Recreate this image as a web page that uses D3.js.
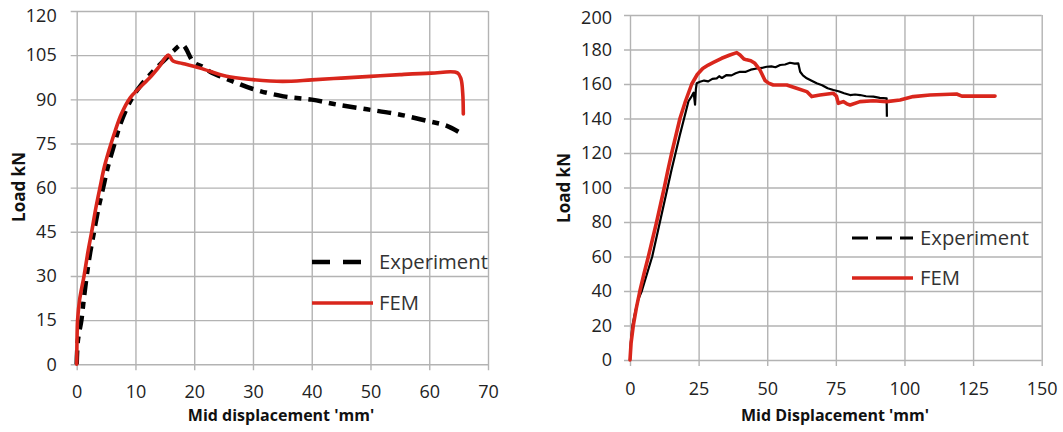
<!DOCTYPE html>
<html>
<head>
<meta charset="utf-8">
<script src="https://cdn.jsdelivr.net/npm/d3@7"></script>
<style>
  body { margin: 0; background: #fff; }
  svg { display: block; font-family: 'Open Sans', sans-serif; }
</style>
</head>
<body>
<div id="chart"></div>
<script>
// ---- left chart: Load vs mid displacement ----
const leftXTicks = [0, 10, 20, 30, 40, 50, 60, 70];
const leftYTicks = [0, 15, 30, 45, 60, 75, 90, 105, 120];
const leftExp = [
  [0, 0], [0.2, 8], [0.8, 15], [1.2, 22], [1.7, 30], [2.3, 38], [2.95, 45], [3.7, 53],
  [4.5, 60], [5.3, 67], [6.3, 74], [7.5, 82], [9.3, 90], [11, 95], [13, 99.5],
  [15, 103.5], [16.5, 106.5], [18, 108.5], [19.9, 102.6], [21.5, 101], [23, 99],
  [24.7, 97.6], [27.3, 95.5], [30, 93.5], [35.2, 91], [40, 89.9], [44.3, 88.2], [49.4, 86.6],
  [54.5, 85], [59.6, 82.7], [63, 81], [65.8, 78]
];
const leftFem = [
  [0, 0], [0.05, 8], [0.15, 15], [0.5, 22], [1.25, 30], [1.9, 38], [2.55, 45], [3.25, 53],
  [3.96, 60], [4.7, 67], [5.55, 73], [6.5, 79], [7.6, 85], [9.1, 90.5], [10.5, 93.5],
  [12.5, 97.5], [14, 101], [15.6, 105], [16.4, 103], [18, 102.2], [21, 100.6], [25.5, 97.8],
  [30, 96.7], [35, 96.1], [40, 96.6], [45, 97.2], [50, 97.8], [55, 98.4], [60.3, 98.9],
  [64.8, 99], [65.4, 97], [65.7, 92], [65.8, 85]
];

// ---- right chart ----
const rightXTicks = [0, 25, 50, 75, 100, 125, 150];
const rightYTicks = [0, 20, 40, 60, 80, 100, 120, 140, 160, 180, 200];
const rightExp = [
  [0, 0], [0.3, 10], [0.9, 20], [1.9, 28], [3, 35], [4.3, 40], [6.2, 50], [8.1, 60],
  [9.5, 70], [10.9, 80], [12.3, 90], [13.7, 100], [15.1, 110], [16.6, 120], [18.1, 130],
  [19.7, 140], [21.3, 150], [22.5, 153], [23.2, 155], [23.7, 148], [24, 157], [24.3, 160.4],
  [25.5, 161.3], [27, 162], [28.5, 161.5], [30, 163], [31.6, 163.3], [32.5, 164.5],
  [33.5, 163.5], [35.2, 165.2], [37, 165], [38.5, 166.2], [40.1, 167.1], [42, 167],
  [44, 168.3], [46.2, 169], [48, 169.3], [49.8, 170], [51.5, 170.2], [53, 169.7],
  [54.7, 171], [56.5, 171.3], [58.3, 172.3], [60, 171.8], [61.3, 172], [62, 167.1],
  [63, 165], [64.4, 163.3], [66, 162], [68, 160.4], [70, 159.3], [72, 157.5],
  [74.1, 156.5], [76, 155.8], [78, 154.6], [80.2, 153.6], [82, 153.9], [83.8, 153.6],
  [86, 152.9], [88.7, 152.7], [91, 152], [93.5, 151.7], [93.6, 141]
];
const rightFem = [
  [0, 0], [0.4, 10], [1.2, 20], [2.3, 30], [3.6, 40], [5.1, 50], [6.7, 60], [8.2, 70],
  [9.7, 80], [11.1, 90], [12.5, 100], [13.8, 110], [15.2, 120], [16.7, 130], [18.2, 140],
  [20.2, 150], [22.5, 160], [24.5, 165.5], [26.5, 169], [28.5, 171], [30.4, 172.5],
  [33.4, 174.9], [36.4, 176.8], [38.9, 178.2], [40.1, 176.8], [41.5, 174.5],
  [42.5, 174], [44, 173.5], [45.5, 172], [47.4, 168], [49.2, 162], [50.5, 160.5],
  [52.2, 159.4], [57.1, 159.4], [60.7, 157.5], [64.4, 155.6], [66.2, 152.7],
  [69.2, 153.6], [74.1, 154.6], [75.2, 153], [75.9, 148.8], [77.7, 149.8], [79, 148.5],
  [80.2, 147.8], [83.8, 149.8], [88.7, 150.3], [93.5, 149.8], [98.4, 150.7],
  [103.2, 152.7], [109.3, 153.6], [119, 154.2], [120.9, 153], [133, 153]
];

const W = 1063, H = 432;
const svg = d3.select('#chart').append('svg').attr('width', W).attr('height', H);
svg.append('rect').attr('width', W).attr('height', H).attr('fill', '#fff');

function drawPanel(cfg) {
  const x = d3.scaleLinear().domain(cfg.xDomain).range([cfg.left, cfg.right]);
  const y = d3.scaleLinear().domain(cfg.yDomain).range([cfg.bottom, cfg.top]);
  const g = svg.append('g');

  // y gridlines + labels
  const ya = g.append('g').attr('transform', `translate(${cfg.left},0)`)
    .call(d3.axisLeft(y).tickValues(cfg.yTicks).tickSizeInner(-(cfg.right - cfg.left))
      .tickSizeOuter(0).tickPadding(cfg.yPad));
  ya.select('.domain').remove();
  ya.selectAll('line').attr('x1', -6).attr('stroke', '#b3b3b3').attr('stroke-width', 1.4);
  ya.selectAll('text').attr('font-size', 18).attr('fill', '#222')
    .attr('font-family', "'Open Sans', sans-serif");
  // top label sits a little lower so it stays inside the picture
  ya.selectAll('text').filter((d) => d === cfg.yDomain[1]).attr('y', cfg.topShift);

  // x gridlines + labels
  const xa = g.append('g').attr('transform', `translate(0,${cfg.bottom})`)
    .call(d3.axisBottom(x).tickValues(cfg.xTicks).tickSizeInner(-(cfg.bottom - cfg.top))
      .tickSizeOuter(0).tickPadding(cfg.xPad));
  xa.select('.domain').remove();
  xa.selectAll('line').attr('y1', 6).attr('stroke', '#b3b3b3').attr('stroke-width', 1.4);
  xa.selectAll('text').attr('font-size', 18).attr('fill', '#222')
    .attr('font-family', "'Open Sans', sans-serif");

  // axis titles
  g.append('text')
    .attr('transform', `translate(${cfg.yTitleX},${cfg.yTitleY}) rotate(-90)`)
    .attr('text-anchor', 'middle').attr('font-weight', 700).attr('font-size', 17)
    .attr('fill', '#111').text('Load kN');
  g.append('text')
    .attr('x', cfg.xTitleX).attr('y', cfg.xTitleY)
    .attr('text-anchor', 'middle').attr('font-weight', 700).attr('font-size', 16)
    .attr('fill', '#111').text(cfg.xTitle);

  const line = d3.line().x((d) => x(d[0])).y((d) => y(d[1])).curve(cfg.curve);

  g.append('path').datum(cfg.exp).attr('d', line)
    .attr('fill', 'none').attr('stroke', '#000')
    .attr('stroke-width', cfg.expWidth)
    .attr('stroke-dasharray', cfg.expDash)
    .attr('stroke-linejoin', 'round');
  g.append('path').datum(cfg.fem).attr('d', line)
    .attr('fill', 'none').attr('stroke', '#d9261c')
    .attr('stroke-width', 3.6).attr('stroke-linejoin', 'round').attr('stroke-linecap', 'round');

  // legend
  const lg = g.append('g');
  lg.append('line').attr('x1', cfg.legX1).attr('x2', cfg.legX2)
    .attr('y1', cfg.legY1).attr('y2', cfg.legY1)
    .attr('stroke', '#000').attr('stroke-width', cfg.legDashW).attr('stroke-dasharray', cfg.legDash);
  lg.append('text').attr('x', cfg.legTextX).attr('y', cfg.legY1 + 7)
    .attr('font-size', 20.3).attr('fill', '#333').text('Experiment');
  lg.append('line').attr('x1', cfg.legX1).attr('x2', cfg.legX2 + cfg.legFemExtra)
    .attr('y1', cfg.legY2).attr('y2', cfg.legY2)
    .attr('stroke', '#d9261c').attr('stroke-width', 3.6);
  lg.append('text').attr('x', cfg.legTextX).attr('y', cfg.legY2 + 7)
    .attr('font-size', 20.3).attr('fill', '#333').text('FEM');
}

drawPanel({
  xDomain: [0, 70], yDomain: [0, 120], left: 76.7, right: 488, top: 11, bottom: 364.3,
  xTicks: leftXTicks, yTicks: leftYTicks, yPad: 20, xPad: 21, topShift: 5,
  yTitleX: 25, yTitleY: 187, xTitleX: 281, xTitleY: 421,
  xTitle: "Mid displacement 'mm'",
  exp: leftExp, fem: leftFem, curve: d3.curveCatmullRom.alpha(0.5),
  expWidth: 4.5, expDash: '14,7,7,7',
  legX1: 312, legX2: 362, legFemExtra: 11, legY1: 262, legY2: 303, legTextX: 379,
  legDash: '18,13', legDashW: 4.5
});

drawPanel({
  xDomain: [0, 150], yDomain: [0, 200], left: 630, right: 1041.7, top: 15, bottom: 360,
  xTicks: rightXTicks, yTicks: rightYTicks, yPad: 18, xPad: 22, topShift: 2.5,
  yTitleX: 570, yTitleY: 188, xTitleX: 835, xTitleY: 421,
  xTitle: "Mid Displacement 'mm'",
  exp: rightExp, fem: rightFem, curve: d3.curveLinear,
  expWidth: 2.2, expDash: null,
  legX1: 852, legX2: 913, legFemExtra: 0, legY1: 238, legY2: 278, legTextX: 920,
  legDash: '16,8', legDashW: 3
});
</script>
</body>
</html>
